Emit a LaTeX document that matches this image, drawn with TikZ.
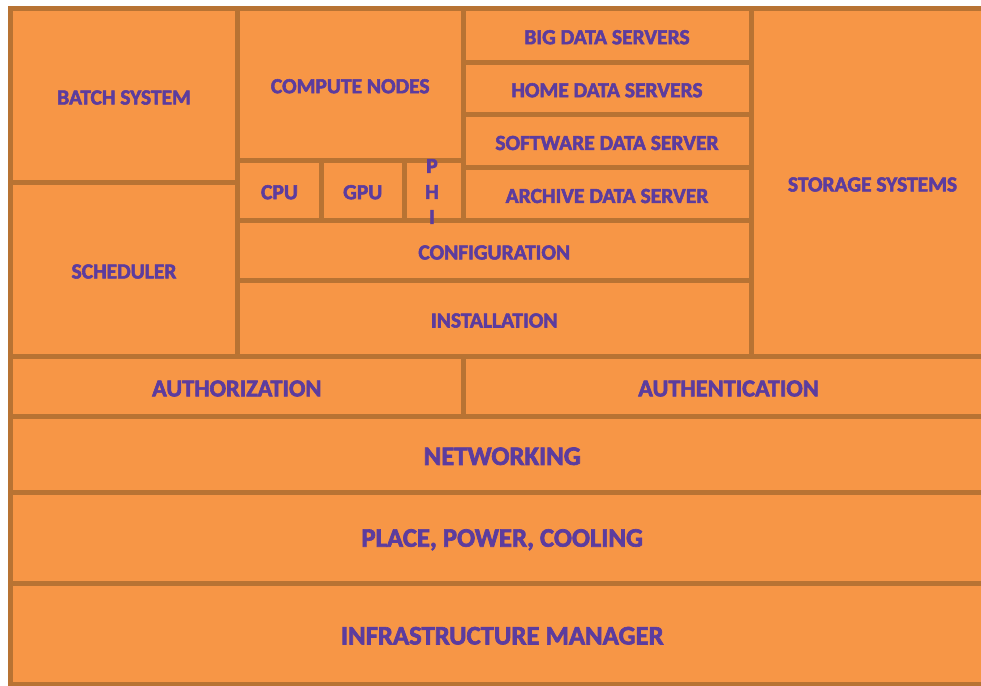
\documentclass[tikz,border=0pt]{standalone}
\usepackage{fontspec}
\setmainfont{Carlito}[BoldFeatures={FakeBold=2.5}]
\definecolor{boxfill}{RGB}{247,150,70}
\definecolor{boxline}{RGB}{184,115,51}
\definecolor{txt}{RGB}{92,60,158}
\tikzset{
  box/.style={draw=boxline, fill=boxfill, line width=5pt},
  lbl/.style={text=txt, inner sep=0pt},
  small/.style={font=\bfseries\fontsize{21.5}{23}\selectfont},
  medium/.style={font=\bfseries\fontsize{24.3}{26}\selectfont},
  large/.style={font=\bfseries\fontsize{26.7}{29}\selectfont}
}
% block: x1, y1, x2, y2, node name, size style, text
\newcommand\layerblock[7]{%
  \draw[box] (#1,#2) rectangle (#3,#4);
  \node[lbl,#6] (#5) at ({(#1+#3)/2},{(#2+#4)/2+2}) {#7};
}
\begin{document}
\begin{tikzpicture}[x=1pt,y=-1pt]
\useasboundingbox (0,0) rectangle (981,685);
\begin{scope}
\clip (0,0) rectangle (981,685);
\fill[white] (0,0) rectangle (981,685);
% lower layers
\layerblock{10.5}{583.5}{994}{684}{infra}{large}{INFRASTRUCTURE MANAGER}
\layerblock{10.5}{492}{994}{583.5}{place}{large}{PLACE, POWER, COOLING}
\layerblock{10.5}{416.5}{994}{492}{net}{large}{NETWORKING}
\layerblock{10.5}{356.5}{463}{416.5}{authz}{medium}{AUTHORIZATION}
\layerblock{463}{356.5}{994}{416.5}{authn}{medium}{AUTHENTICATION}
% left column
\layerblock{10.5}{8.5}{237.5}{182.5}{batch}{small}{BATCH SYSTEM}
\layerblock{10.5}{182.5}{237.5}{356.5}{sched}{small}{SCHEDULER}
% middle column
\layerblock{237.5}{8.5}{463}{160}{compute}{small}{COMPUTE NODES}
\layerblock{237.5}{160}{321.5}{220.5}{cpu}{small}{CPU}
\layerblock{321.5}{160}{404}{220.5}{gpu}{small}{GPU}
\draw[box] (404,160) rectangle (463,220.5);
\layerblock{237.5}{220.5}{751}{280.5}{config}{small}{CONFIGURATION}
\layerblock{237.5}{280.5}{751}{356.5}{install}{small}{INSTALLATION}
% data servers
\layerblock{463}{8.5}{751}{62}{bigdata}{small}{BIG DATA SERVERS}
\layerblock{463}{62}{751}{114.5}{home}{small}{HOME DATA SERVERS}
\layerblock{463}{114.5}{751}{167.5}{software}{small}{SOFTWARE DATA SERVER}
\layerblock{463}{167.5}{751}{220.5}{archive}{small}{ARCHIVE DATA SERVER}
% storage
\layerblock{751}{8.5}{994}{356.5}{storage}{small}{STORAGE SYSTEMS}
% vertical PHI label, one letter per line
\node[lbl,small] (phiP) at (432,166) {P};
\node[lbl,small] (phiH) at (432,192) {H};
\node[lbl,small] (phiI) at (432,217) {I};
\end{scope}
\end{tikzpicture}
\end{document}
